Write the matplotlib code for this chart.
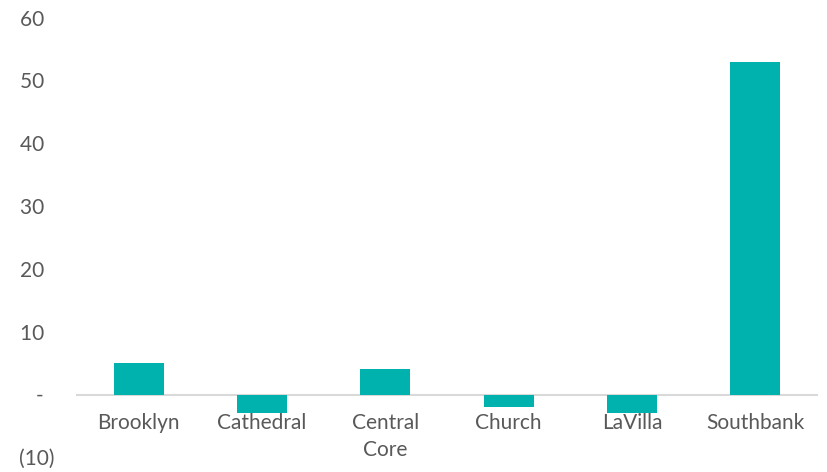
import matplotlib
matplotlib.use('Agg')
import matplotlib.pyplot as plt

# change by district
districts = ['Brooklyn', 'Cathedral', 'Central\nCore', 'Church', 'LaVilla', 'Southbank']
values = [5, -3, 4, -2, -3, 53]
y_ticks = [-10, 0, 10, 20, 30, 40, 50, 60]

plt.rcParams['font.family'] = ['Lato', 'DejaVu Sans']


def acct(v):
    # accounting-style labels: dash for zero, parentheses for negatives
    if v == 0:
        return '-  '
    if v < 0:
        return f'({abs(v):,.0f})'
    return f'{v:,.0f}  '


fig = plt.figure(figsize=(8.27, 4.72), dpi=100)
ax = fig.add_axes([77 / 827, 1 - 457.3 / 472, 740 / 827, 439.6 / 472])

x = range(len(districts))
ax.bar(x, values, width=0.405, color='#00B2AE', zorder=2)

ax.set_xlim(-0.5, len(districts) - 0.5)
ax.set_ylim(-10, 60)
ax.set_yticks(y_ticks)
ax.set_yticklabels([acct(v) for v in y_ticks])
ax.set_xticks(list(x))
ax.set_xticklabels(districts)

for s in ['top', 'right', 'left']:
    ax.spines[s].set_visible(False)
ax.spines['bottom'].set_position(('data', 0))
ax.spines['bottom'].set_color('#D9D9D9')
ax.spines['bottom'].set_linewidth(1.5)
ax.spines['bottom'].set_zorder(1)

ax.tick_params(axis='both', length=0, labelsize=15, labelcolor='#595959')
ax.tick_params(axis='y', pad=16)
ax.tick_params(axis='x', pad=13)
for lbl in ax.get_xticklabels():
    lbl.set_linespacing(1.45)

plt.savefig('out.png', dpi=100)
plt.close()
